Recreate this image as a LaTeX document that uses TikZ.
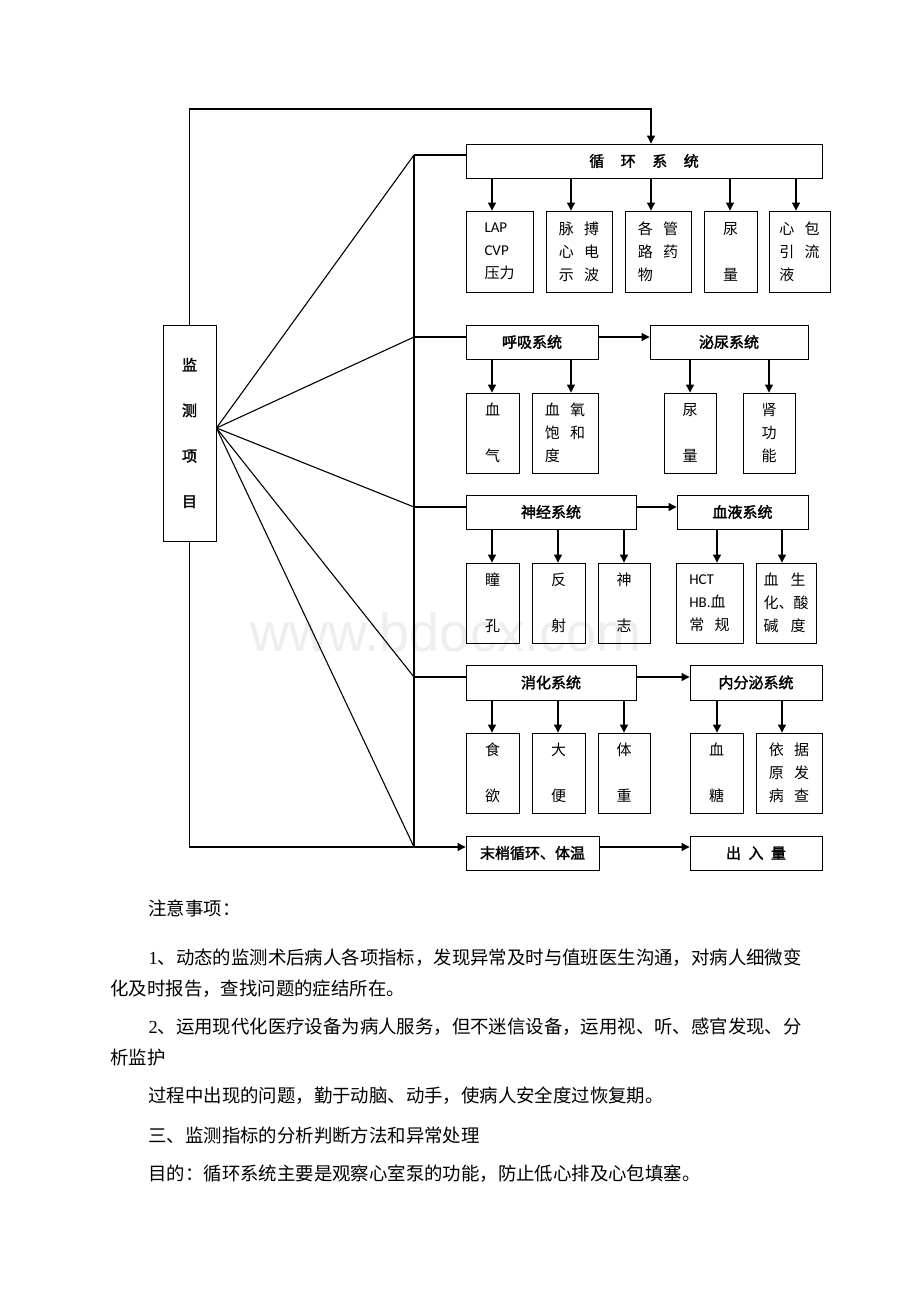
\documentclass[tikz,border=0pt]{standalone}
\usepackage{fontspec}
\setmainfont{Liberation Serif}
\newfontfamily\cjk{Noto Sans CJK SC}
\newfontfamily\cjkb{Noto Sans CJK SC}[FakeBold=2]
\newfontfamily\lat{Carlito}
\newfontfamily\wmfont{Liberation Sans}
\usetikzlibrary{arrows.meta}
\newcommand\Bx[7]{\node[#1, minimum width={(#5-#3)*1pt}, minimum height={(#6-#4)*1pt}] (#2) at ({(#3+#5)/2},{(#4+#6)/2}) {#7};}
\newcommand\gp{\hspace{.7em}}
\begin{document}
\begin{tikzpicture}[x=1pt,y=-1pt,line width=1.1pt,
  arr/.style={-{Triangle[length=8pt,width=8pt]}},
  box/.style={draw, line width=0.9pt, inner sep=0pt, font=\cjk\fontsize{15}{23}\selectfont, align=center},
  lbox/.style={box, align=left},
  head/.style={draw, line width=0.9pt, inner sep=0pt, font=\cjkb\fontsize{15}{18}\selectfont},
  txt/.style={anchor=west, inner sep=0pt, font=\cjk\fontsize{18.4}{22}\selectfont}]
\fill[white] (0,0) rectangle (920,1302);
\useasboundingbox (0,0) rectangle (920,1302);
% watermark
\node[text=gray!13, font=\wmfont\fontsize{54}{54}\selectfont] (wm) at (446,632) {www.bdocx.com};
% left box
\Bx{draw,line width=0.9pt,inner sep=0pt,font=\cjkb\fontsize{15}{45.5}\selectfont,align=center}{m}{163}{325}{216}{541}{监\\测\\项\\目}
% row 1
\Bx{head}{h1}{466}{144}{822}{178}{循\hspace{1.1em}环\hspace{1.1em}系\hspace{1.1em}统}
\Bx{lbox}{c11}{466}{211}{533}{292}{{\lat LAP}\\{\lat CVP}\\压力}
\Bx{lbox}{c12}{546}{211}{612}{292}{脉\gp 搏\\心\gp 电\\示\gp 波}
\Bx{lbox}{c13}{625}{211}{691}{292}{各\gp 管\\路\gp 药\\物}
\Bx{box}{c14}{704}{211}{757}{292}{尿\\\mbox{}\\量}
\Bx{lbox}{c15}{769}{211}{830}{292}{心\gp 包\\引\gp 流\\液}
% row 2
\Bx{head}{h2}{466}{325}{598}{359}{呼吸系统}
\Bx{head}{h3}{650}{325}{808}{359}{泌尿系统}
\Bx{box}{c21}{466}{393}{519}{473}{血\\\mbox{}\\气}
\Bx{lbox}{c22}{532}{393}{598}{473}{血\gp 氧\\饱\gp 和\\度}
\Bx{box}{c23}{664}{393}{716}{473}{尿\\\mbox{}\\量}
\Bx{box}{c24}{743}{393}{795}{473}{肾\\功\\能}
% row 3
\Bx{head}{h4}{466}{495}{636}{529}{神经系统}
\Bx{head}{h5}{677}{495}{808}{529}{血液系统}
\Bx{box}{c31}{466}{563}{519}{643}{瞳\\\mbox{}\\孔}
\Bx{box}{c32}{532}{563}{585}{643}{反\\\mbox{}\\射}
\Bx{box}{c33}{598}{563}{650}{643}{神\\\mbox{}\\志}
\Bx{lbox}{c34}{676}{563}{743}{643}{{\lat HCT}\\{\lat HB.}血\\常\gp 规}
\Bx{lbox}{c35}{756}{563}{816}{643}{血\hspace{.8em}生\\化、酸\\碱\hspace{.8em}度}
% row 4
\Bx{head}{h6}{466}{665}{636}{700}{消化系统}
\Bx{head}{h7}{690}{665}{822}{700}{内分泌系统}
\Bx{box}{c41}{466}{733}{519}{813}{食\\\mbox{}\\欲}
\Bx{box}{c42}{532}{733}{585}{813}{大\\\mbox{}\\便}
\Bx{box}{c43}{598}{733}{650}{813}{体\\\mbox{}\\重}
\Bx{box}{c44}{690}{733}{743}{813}{血\\\mbox{}\\糖}
\Bx{lbox}{c45}{756}{733}{822}{813}{依\gp 据\\原\gp 发\\病\gp 查}
% row 5
\Bx{head}{h8}{466}{836}{599}{870}{末梢循环、体温}
\Bx{head}{h9}{690}{836}{822}{870}{出\hspace{.5em}入\hspace{.5em}量}
% connectors
\coordinate (o) at ([yshift=5pt]m.east);
\coordinate (b1) at (414,155);
\coordinate (b2) at (414,337);
\coordinate (b3) at (414,507);
\coordinate (b4) at (414,677);
\coordinate (b5) at (414,847);
\coordinate (tp) at (651,109);
\draw (b1) -- (b5);
\foreach \b in {b1,b2,b3,b4,b5} \draw (o) -- (\b);
\draw (b1) -- (h1.west |- b1);
\draw (b2) -- (h2.west |- b2);
\draw (b3) -- (h4.west |- b3);
\draw (b4) -- (h6.west |- b4);
\draw[arr] (m.north) |- (tp) -- (h1.north -| tp);
\draw[arr] (m.south) |- (h8.west |- b5);
\draw[arr] (h2.east |- b2) -- (h3.west |- b2);
\draw[arr] (h4.east |- b3) -- (h5.west |- b3);
\draw[arr] (h6.east |- b4) -- (h7.west |- b4);
\draw[arr] (h8.east |- b5) -- (h9.west |- b5);
\foreach \c/\x in {c11/492,c12/571,c13/651,c14/730,c15/796}
  \draw[arr] (h1.south -| \x,0) -- (\c.north -| \x,0);
\foreach \c/\x in {c21/492,c22/571}
  \draw[arr] (h2.south -| \x,0) -- (\c.north -| \x,0);
\foreach \c/\x in {c23/690,c24/769}
  \draw[arr] (h3.south -| \x,0) -- (\c.north -| \x,0);
\foreach \c/\x in {c31/492,c32/558,c33/624}
  \draw[arr] (h4.south -| \x,0) -- (\c.north -| \x,0);
\foreach \c/\x in {c34/717,c35/782}
  \draw[arr] (h5.south -| \x,0) -- (\c.north -| \x,0);
\foreach \c/\x in {c41/492,c42/558,c43/624}
  \draw[arr] (h6.south -| \x,0) -- (\c.north -| \x,0);
\foreach \c/\x in {c44/717,c45/782}
  \draw[arr] (h7.south -| \x,0) -- (\c.north -| \x,0);
% text
\node[txt] (t1) at (148,908) {注意事项：};
\node[txt] (t2) at (148,958) {{\rmfamily 1}、动态的监测术后病人各项指标，发现异常及时与值班医生沟通，对病人细微变};
\node[txt] (t3) at (110,989) {化及时报告，查找问题的症结所在。};
\node[txt] (t4) at (148,1027) {{\rmfamily 2}、运用现代化医疗设备为病人服务，但不迷信设备，运用视、听、感官发现、分};
\node[txt] (t5) at (110,1058) {析监护};
\node[txt] (t6) at (148,1096) {过程中出现的问题，勤于动脑、动手，使病人安全度过恢复期。};
\node[txt] (t7) at (148,1135) {三、监测指标的分析判断方法和异常处理};
\node[txt] (t8) at (148,1174) {目的：循环系统主要是观察心室泵的功能，防止低心排及心包填塞。};
\end{tikzpicture}
\end{document}
